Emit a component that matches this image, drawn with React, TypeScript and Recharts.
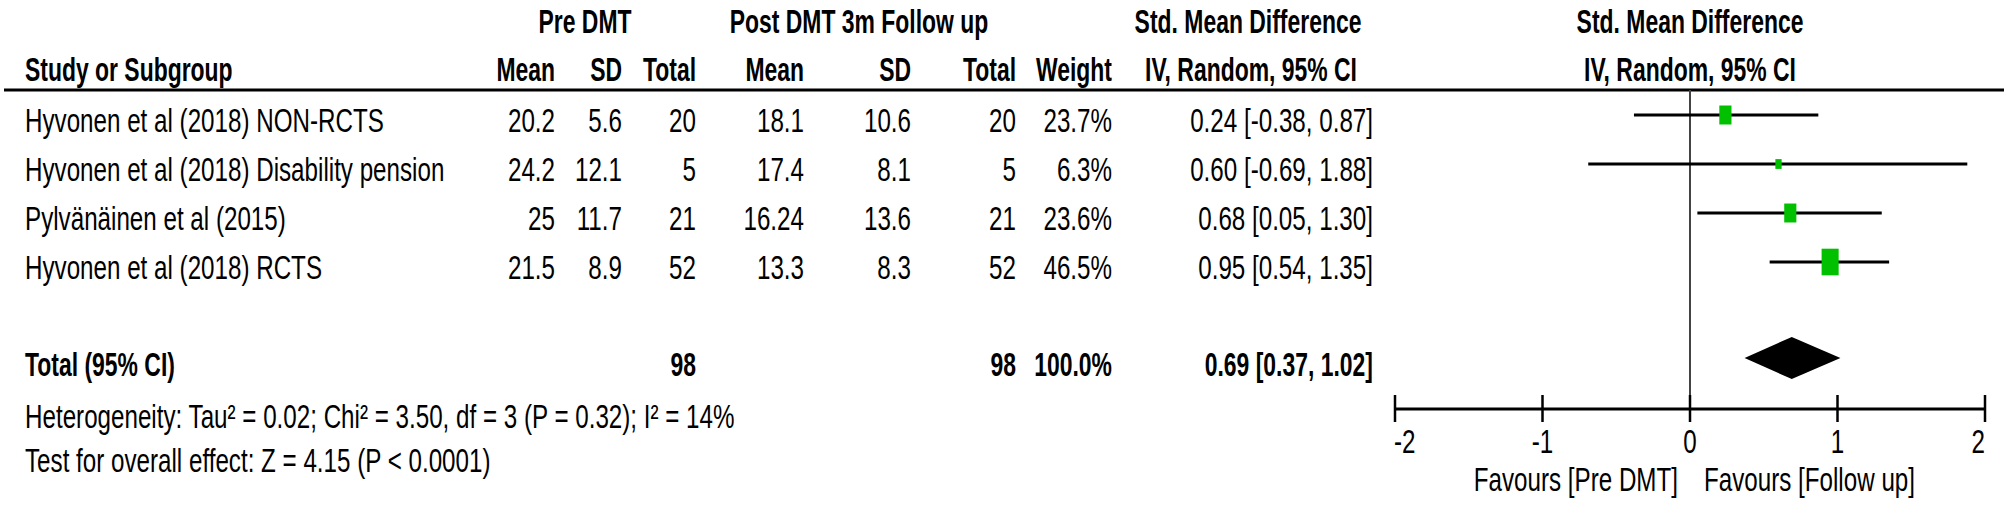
import React from 'react';
import { ComposedChart, XAxis, YAxis, Scatter, ErrorBar, Area, ReferenceLine, Customized } from 'recharts';

// ---------- data ----------
const studies = [
  'Hyvonen et al (2018) NON-RCTS',
  'Hyvonen et al (2018) Disability pension',
  'Pylvänäinen et al (2015)',
  'Hyvonen et al (2018) RCTS',
];
const preMean = [20.2, 24.2, 25, 21.5];
const preSD = [5.6, 12.1, 11.7, 8.9];
const preTotal = [20, 5, 21, 52];
const postMean = [18.1, 17.4, 16.24, 13.3];
const postSD = [10.6, 8.1, 13.6, 8.3];
const postTotal = [20, 5, 21, 52];
const weights = [23.7, 6.3, 23.6, 46.5];
const smd = [0.24, 0.6, 0.68, 0.95];
const ciLow = [-0.38, -0.69, 0.05, 0.54];
const ciHigh = [0.87, 1.88, 1.3, 1.35];
const totalEffect = [0.69, 0.37, 1.02]; // SMD, low, high
const totalN = [98, 98];
const totalWeight = 100.0;
const xTicks = [-2, -1, 0, 1, 2];
const heterogeneityText = 'Heterogeneity: Tau² = 0.02; Chi² = 3.50, df = 3 (P = 0.32); I² = 14%';
const overallText = 'Test for overall effect: Z = 4.15 (P < 0.0001)';

// ---------- layout ----------
const FONT = "'Liberation Sans', Arial, sans-serif";
const FS = 33;
const SX = 0.733;
const SXB = 0.695;
const COL = { name: 25, preMean: 555, preSD: 622, preTotal: 696, postMean: 804, postSD: 911, postTotal: 1016, weight: 1112, ci: 1373 };
const totalPos = studies.length + 1.96;
const fmtCI = (m: number, l: number, h: number) => `${m.toFixed(2)} [${l.toFixed(2)}, ${h.toFixed(2)}]`;

function T({ x, y, children, anchor = 'start', bold = false, fill = '#000' }: any) {
  return (
    <text
      transform={`translate(${x},${y}) scale(${bold ? SXB : SX},1)`}
      textAnchor={anchor}
      fontFamily={FONT}
      fontSize={FS}
      fontWeight={bold ? 700 : 400}
      fill={fill}
    >
      {children}
    </text>
  );
}

const studyData = studies.map((name, i) => ({
  x: smd[i],
  y: i + 1,
  err: [smd[i] - ciLow[i], ciHigh[i] - smd[i]],
  i,
}));
const totalData = [{ x: totalEffect[0], y: totalPos }];
const diamondData = [
  { x: totalEffect[1], range: [totalPos, totalPos] },
  { x: totalEffect[0], range: [totalPos - 0.43, totalPos + 0.43] },
  { x: totalEffect[2], range: [totalPos, totalPos] },
];

const StudyText = (props: any) => {
  const { cy, payload } = props;
  const i = payload.i;
  const by = cy + 17;
  return (
    <g>
      <T x={COL.name} y={by}>{studies[i]}</T>
      <T x={COL.preMean} y={by} anchor="end">{String(preMean[i])}</T>
      <T x={COL.preSD} y={by} anchor="end">{String(preSD[i])}</T>
      <T x={COL.preTotal} y={by} anchor="end">{String(preTotal[i])}</T>
      <T x={COL.postMean} y={by} anchor="end">{String(postMean[i])}</T>
      <T x={COL.postSD} y={by} anchor="end">{String(postSD[i])}</T>
      <T x={COL.postTotal} y={by} anchor="end">{String(postTotal[i])}</T>
      <T x={COL.weight} y={by} anchor="end">{weights[i].toFixed(1) + '%'}</T>
      <T x={COL.ci} y={by} anchor="end">{fmtCI(smd[i], ciLow[i], ciHigh[i])}</T>
    </g>
  );
};

const StudySquare = (props: any) => {
  const { cx, cy, payload } = props;
  const s = Math.sqrt(weights[payload.i]);
  const w = 2.5 * s;
  const h = 3.9 * s;
  return <rect x={cx - w / 2} y={cy - h / 2} width={w} height={h} fill="#00c000" />;
};

const TotalText = (props: any) => {
  const { cy } = props;
  const by = cy + 18;
  return (
    <g>
      <T x={COL.name} y={by} bold>Total (95% CI)</T>
      <T x={COL.preTotal} y={by} anchor="end" bold>{String(totalN[0])}</T>
      <T x={COL.postTotal} y={by} anchor="end" bold>{String(totalN[1])}</T>
      <T x={COL.weight} y={by} anchor="end" bold>{totalWeight.toFixed(1) + '%'}</T>
      <T x={COL.ci} y={by} anchor="end" bold>{fmtCI(totalEffect[0], totalEffect[1], totalEffect[2])}</T>
      <T x={COL.name} y={cy + 70}>{heterogeneityText}</T>
      <T x={COL.name} y={cy + 114}>{overallText}</T>
    </g>
  );
};

const AxisTick = (props: any) => {
  const { x, y, payload, index } = props;
  const last = xTicks.length - 1;
  const anchor = index === 0 ? 'start' : index === last ? 'end' : 'middle';
  const tx = index === 0 ? x - 1 : x;
  return (
    <g>
      <line x1={x} x2={x} y1={y - 14} y2={y + 13} stroke="#000" strokeWidth={2.5} />
      <T x={tx} y={y + 44} anchor={anchor}>{String(payload.value)}</T>
    </g>
  );
};

const Headers = () => (
  <g>
    <T x={585} y={33} anchor="middle" bold>Pre DMT</T>
    <T x={859} y={33} anchor="middle" bold>Post DMT 3m Follow up</T>
    <T x={1248} y={33} anchor="middle" bold>Std. Mean Difference</T>
    <T x={1690} y={33} anchor="middle" bold>Std. Mean Difference</T>
    <T x={COL.name} y={81} bold>Study or Subgroup</T>
    <T x={COL.preMean} y={81} anchor="end" bold>Mean</T>
    <T x={COL.preSD} y={81} anchor="end" bold>SD</T>
    <T x={COL.preTotal} y={81} anchor="end" bold>Total</T>
    <T x={COL.postMean} y={81} anchor="end" bold>Mean</T>
    <T x={COL.postSD} y={81} anchor="end" bold>SD</T>
    <T x={COL.postTotal} y={81} anchor="end" bold>Total</T>
    <T x={COL.weight} y={81} anchor="end" bold>Weight</T>
    <T x={1251} y={81} anchor="middle" bold>IV, Random, 95% CI</T>
    <T x={1690} y={81} anchor="middle" bold>IV, Random, 95% CI</T>
    <line x1={4} x2={2004} y1={90} y2={90} stroke="#000" strokeWidth={3} />
    <T x={1678} y={491} anchor="end">Favours [Pre DMT]</T>
    <T x={1704} y={491}>Favours [Follow up]</T>
  </g>
);

export default function App() {
  return (
    <div style={{ position: 'absolute', left: 0, top: 0, width: 2008, height: 506, background: '#fff' }}>
      <ComposedChart width={2008} height={506} margin={{ top: 0, right: 23, bottom: 0, left: 1395 }}>
        <XAxis
          type="number"
          dataKey="x"
          domain={[-2, 2]}
          ticks={xTicks}
          interval={0}
          height={97}
          tickSize={0}
          tickMargin={0}
          tickLine={false}
          axisLine={{ stroke: '#000', strokeWidth: 3 }}
          tick={<AxisTick />}
        />
        <YAxis type="number" dataKey="y" domain={[-1.3469, 7]} reversed hide />
        <Customized component={Headers} />
        <ReferenceLine
          segment={[{ x: 0, y: 0.49 }, { x: 0, y: 7 }]}
          stroke="#444"
          strokeWidth={2}
          ifOverflow="visible"
        />
        <Area
          data={diamondData}
          dataKey="range"
          type="linear"
          fill="#000"
          fillOpacity={1}
          stroke="none"
          isAnimationActive={false}
        />
        <Scatter data={studyData} shape={<StudyText />} isAnimationActive={false}>
          <ErrorBar dataKey="err" direction="x" width={0} stroke="#000" strokeWidth={3} isAnimationActive={false} />
        </Scatter>
        <Scatter data={studyData} shape={<StudySquare />} isAnimationActive={false} />
        <Scatter data={totalData} shape={<TotalText />} isAnimationActive={false} />
      </ComposedChart>
    </div>
  );
}
